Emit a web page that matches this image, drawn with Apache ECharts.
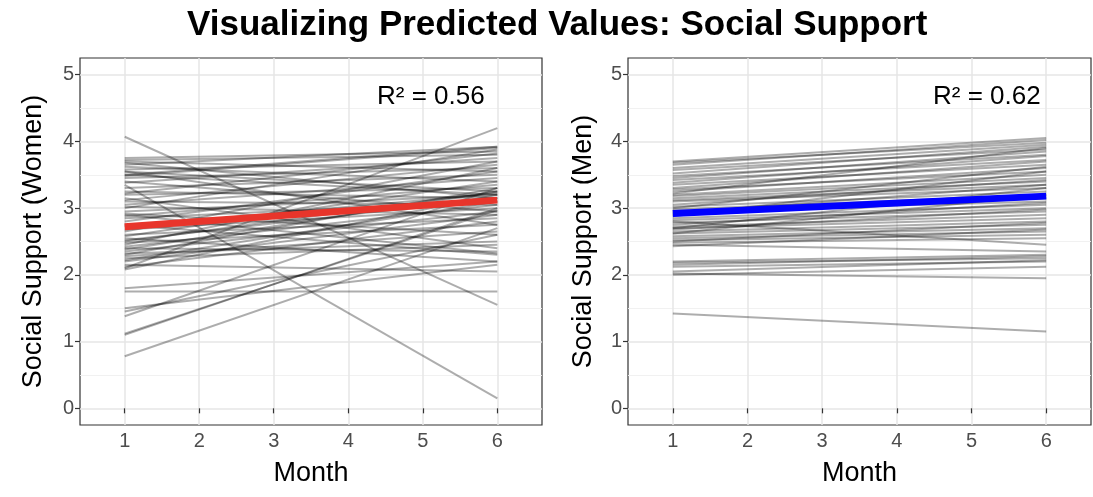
<!DOCTYPE html>
<html>
<head>
<meta charset="utf-8">
<script src="https://cdn.jsdelivr.net/npm/echarts@6/dist/echarts.min.js"></script>
<style>
html,body{margin:0;padding:0;background:#fff;}
#c{width:1093px;height:497px;}
</style>
</head>
<body>
<div id="c"></div>
<script>
// ---- data ----
var months = [1, 2, 3, 4, 5, 6];
var yTicks = [0, 1, 2, 3, 4, 5];
var yMinor = [0.5, 1.5, 2.5, 3.5, 4.5];
var firstMonth = 1;
var lastMonth = 6;

// predicted value at month 1 and month 6 for each woman
var womenStart = [4.07, 3.35, 3.75, 3.72, 3.70, 3.65, 3.62, 3.58, 3.55, 3.50, 3.48, 3.45, 3.40, 3.38, 3.30, 3.25,
  3.22, 3.20, 3.15, 3.12, 3.10, 3.05, 3.02, 3.00, 2.95, 2.92, 2.88, 2.85, 2.80, 2.75, 2.72, 2.68, 2.65, 2.60,
  2.58, 2.55, 2.52, 2.48, 2.45, 2.42, 2.40, 2.38, 2.35, 2.32, 2.30, 2.28, 2.25, 2.22, 2.20, 2.15, 2.12, 2.10,
  2.08, 1.80, 1.75, 1.50, 1.45, 1.38, 1.12, 1.10, 0.78, 3.55, 2.90, 3.68, 3.50, 2.50];
var womenEnd = [1.55, 0.15, 3.85, 3.80, 3.55, 3.92, 3.40, 3.70, 3.25, 3.20, 3.90, 3.60, 2.95, 3.75, 3.50, 3.15,
  3.82, 3.30, 2.40, 3.65, 3.05, 3.45, 2.90, 3.88, 3.20, 2.60, 3.35, 3.10, 3.55, 2.30, 3.22, 3.00, 3.70, 2.85,
  3.40, 2.20, 3.15, 2.75, 3.60, 3.05, 2.35, 3.25, 2.95, 2.50, 3.30, 2.65, 2.45, 3.10, 2.90, 2.05, 2.80, 4.20,
  3.20, 2.20, 1.75, 2.15, 2.60, 3.30, 2.97, 3.00, 2.70, 2.75, 2.32, 3.15, 3.92, 3.25];
var womenMean = [2.72, 3.12];
var womenR2 = 'R\u00b2 = 0.56';

var menStart = [3.70, 3.68, 3.65, 3.60, 3.57, 3.52, 3.48, 3.45, 3.42, 3.38, 3.35, 3.30, 3.28, 3.25, 3.20, 3.18,
  3.15, 3.12, 3.10, 3.05, 3.02, 2.98, 2.95, 2.90, 2.85, 2.82, 2.78, 2.75, 2.72, 2.70, 2.68, 2.65, 2.62, 2.58,
  2.55, 2.52, 2.50, 2.48, 2.45, 2.43, 2.70, 2.88, 2.62, 2.20, 2.18, 2.15, 2.12, 2.05, 2.02, 2.00, 1.42, 3.00,
  3.22, 2.80, 2.92];
var menEnd = [4.05, 3.98, 4.02, 3.95, 3.88, 3.92, 3.80, 3.85, 3.72, 3.78, 3.65, 3.70, 3.55, 3.60, 3.50, 3.45,
  3.40, 3.35, 3.30, 3.42, 3.25, 3.20, 3.10, 3.15, 3.05, 3.00, 2.95, 3.08, 2.90, 2.85, 2.98, 2.80, 2.75, 2.70,
  2.65, 2.60, 2.78, 2.55, 2.35, 2.68, 3.30, 3.55, 3.20, 2.30, 2.25, 2.28, 2.20, 2.22, 1.95, 2.12, 1.15, 3.62,
  3.90, 2.45, 3.35];
var menMean = [2.92, 3.18];
var menR2 = 'R\u00b2 = 0.62';

// ---- chart ----
var FONT = '"Liberation Sans", Arimo, Arial, sans-serif';
var chart = echarts.init(document.getElementById('c'), null, {renderer: 'canvas'});

function gridSeries(idx) {
  var md = [];
  yMinor.forEach(function (v) { md.push({yAxis: v, lineStyle: {width: 0.9, color: '#efefef', type: 'solid'}}); });
  months.forEach(function (m) { md.push({xAxis: m, lineStyle: {width: 1.5, color: '#e6e6e6', type: 'solid'}}); });
  yTicks.forEach(function (v) { md.push({yAxis: v, lineStyle: {width: 1.5, color: '#e6e6e6', type: 'solid'}}); });
  return {
    type: 'line', xAxisIndex: idx, yAxisIndex: idx, data: [], silent: true, z: 0,
    markLine: {silent: true, z: 0, symbol: 'none', label: {show: false}, animation: false,
      lineStyle: {type: 'solid'}, emphasis: {disabled: true}, data: md}
  };
}

function personSeries(idx, starts, ends) {
  return starts.map(function (s, i) {
    return {
      type: 'line', xAxisIndex: idx, yAxisIndex: idx, silent: true, z: 2,
      symbol: 'none', animation: false,
      lineStyle: {color: 'rgba(0,0,0,0.32)', width: 2},
      data: [[firstMonth, s], [lastMonth, ends[i]]]
    };
  });
}

function meanSeries(idx, vals, color) {
  return {
    type: 'line', xAxisIndex: idx, yAxisIndex: idx, silent: true, z: 3,
    symbol: 'none', animation: false,
    lineStyle: {color: color, width: 7},
    data: [[firstMonth, vals[0]], [lastMonth, vals[1]]]
  };
}

function xAxisCfg(idx) {
  return {
    type: 'value', gridIndex: idx, min: 0.4, max: 6.6,
    name: 'Month', nameLocation: 'middle', nameGap: 35,
    nameTextStyle: {fontFamily: FONT, fontSize: 27, color: '#000', verticalAlign: 'top'},
    axisLine: {show: false},
    axisTick: {show: true, customValues: months, length: 5, lineStyle: {color: '#333', width: 1.2}},
    axisLabel: {customValues: months, fontFamily: FONT, fontSize: 20, color: '#4d4d4d', margin: 6},
    splitLine: {show: false}
  };
}
function yAxisCfg(idx, name, gap) {
  return {
    type: 'value', gridIndex: idx, min: -0.25, max: 5.25,
    name: name, nameLocation: 'middle', nameGap: gap, nameRotate: 90,
    nameTextStyle: {fontFamily: FONT, fontSize: 27, color: '#000'},
    axisLine: {show: false},
    axisTick: {show: true, customValues: yTicks, length: 5, lineStyle: {color: '#333', width: 1.2}},
    axisLabel: {customValues: yTicks, fontFamily: FONT, fontSize: 20, color: '#4d4d4d', margin: 6},
    splitLine: {show: false}
  };
}

var series = [gridSeries(0), gridSeries(1)]
  .concat(personSeries(0, womenStart, womenEnd))
  .concat(personSeries(1, menStart, menEnd))
  .concat([meanSeries(0, womenMean, '#e8352b'), meanSeries(1, menMean, '#0000ff')]);

chart.setOption({
  animation: false,
  backgroundColor: '#fff',
  title: {
    text: 'Visualizing Predicted Values: Social Support',
    left: 182, top: 3,
    textStyle: {fontFamily: FONT, fontSize: 35, fontWeight: 'bold', color: '#000'}
  },
  grid: [
    {left: 80, top: 58, width: 462, height: 367, show: true, borderColor: '#333', borderWidth: 1.2, backgroundColor: 'transparent'},
    {left: 628, top: 58, width: 463, height: 367, show: true, borderColor: '#333', borderWidth: 1.2, backgroundColor: 'transparent'}
  ],
  xAxis: [xAxisCfg(0), xAxisCfg(1)],
  yAxis: [yAxisCfg(0, 'Social Support (Women)', 33), yAxisCfg(1, 'Social Support (Men)', 31)],
  graphic: [
    {type: 'text', left: 377, top: 84, z: 10, style: {text: womenR2, font: '26px ' + FONT, fill: '#000'}},
    {type: 'text', left: 933, top: 84, z: 10, style: {text: menR2, font: '26px ' + FONT, fill: '#000'}}
  ],
  series: series
});
</script>
</body>
</html>
